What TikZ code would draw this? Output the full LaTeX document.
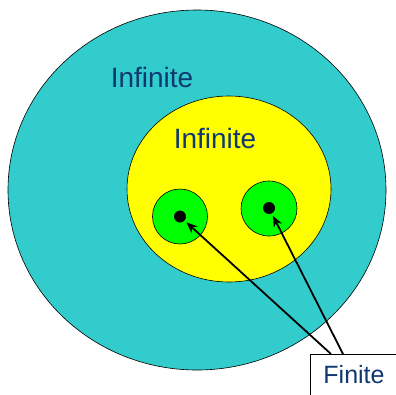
\documentclass[tikz,border=0pt]{standalone}
\usepackage{fontspec}
\setmainfont{Liberation Sans}
\usetikzlibrary{arrows.meta,shapes.geometric}
\definecolor{cyanfill}{RGB}{51,204,204}
\definecolor{yellowfill}{RGB}{255,255,0}
\definecolor{greenfill}{RGB}{0,255,0}
\definecolor{navytext}{RGB}{16,56,112}
\tikzset{
  region/.style={ellipse, draw=black, line width=0.6pt, inner sep=0pt},
  dot/.style={circle, fill=black, inner sep=0pt, minimum size=12pt},
  lbl/.style={text=navytext, inner sep=0pt, anchor=base},
  pointer/.style={line width=1.8pt, draw=black, shorten >=2.5pt, -{Stealth[length=11pt,width=9pt,fill=navytext]}},
}
\begin{document}
\begin{tikzpicture}[x=1pt,y=-1pt]
\useasboundingbox (0,0) rectangle (396,394);
\fill[white] (0,0) rectangle (396,394);
\node[region, fill=cyanfill, minimum width=378pt, minimum height=360pt] (outer) at (197,190) {};
\node[region, fill=yellowfill, minimum width=204pt, minimum height=186pt] (inner) at (229,189) {};
\node[region, fill=greenfill, minimum width=55pt, minimum height=55pt] (gl) at (180,216.5) {};
\node[region, fill=greenfill, minimum width=56pt, minimum height=55pt] (gr) at (269,208.5) {};
\node[dot] (dl) at (180,216.5) {};
\node[dot] (dr) at (269,208) {};
\node[lbl, font=\fontsize{28}{30}\selectfont] (t1) at (152,87) {Infinite};
\node[lbl, font=\fontsize{28}{30}\selectfont] (t2) at (215,148) {Infinite};
\node[draw=black, fill=white, line width=0.8pt, anchor=north west, minimum width=100pt, minimum height=60pt] (box) at (310,354) {};
\node[lbl, font=\fontsize{25}{27}\selectfont] (t3) at (354,383) {Finite};
\coordinate (s1) at ([xshift=21pt]box.north west);
\coordinate (s2) at ([xshift=33pt]box.north west);
\draw[pointer] (s1) -- (dl);
\draw[pointer] (s2) -- (dr);
\end{tikzpicture}
\end{document}
